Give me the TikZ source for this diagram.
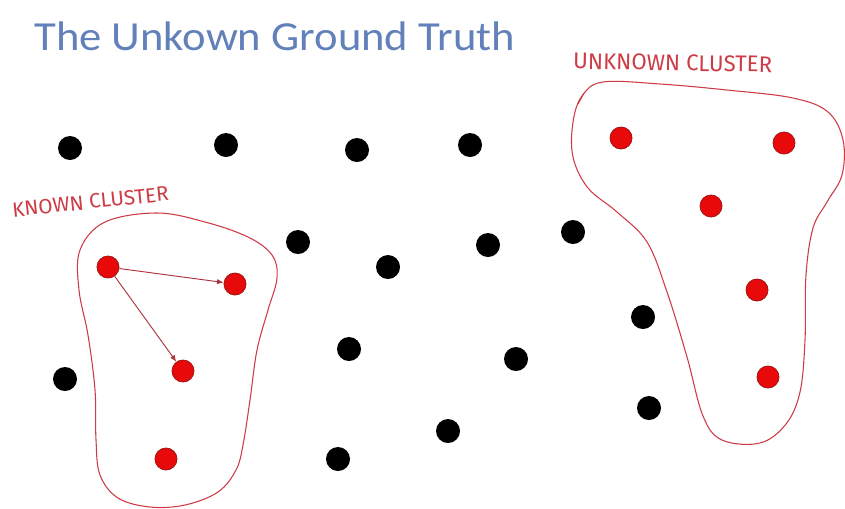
\documentclass[tikz,border=0pt]{standalone}
\usepackage{fontspec}
\setmainfont{Carlito}
\newfontfamily\handfont{Fira Sans}
\usetikzlibrary{arrows.meta}
\definecolor{titleblue}{RGB}{98,128,186}
\definecolor{dotred}{RGB}{232,10,10}
\definecolor{dotedge}{RGB}{160,20,20}
\definecolor{penred}{RGB}{205,60,70}
\tikzset{
  bdot/.style={circle,fill=black,inner sep=0pt,minimum size=18pt},
  rdot/.style={circle,fill=dotred,draw=dotedge,line width=0.6pt,inner sep=0pt,minimum size=16.5pt},
  blob/.style={draw=penred,line width=0.8pt},
  linkarrow/.style={draw=penred!85!black,line width=0.7pt,-{Latex[length=5pt,width=4pt]}},
  hand/.style={text=penred,inner sep=0pt,anchor=west}
}
\begin{document}
\begin{tikzpicture}[x=0.75pt,y=-0.75pt]
\useasboundingbox (0,0) rectangle (845,508);
\fill[white] (0,0) rectangle (845,508);
% title
\node[anchor=west,text=titleblue,font=\fontsize{31}{31}\selectfont,inner sep=0pt,xscale=1.08] (title) at (34,36) {The Unkown Ground Truth};
% black dots
\node[bdot] (k1) at (70,148) {};
\node[bdot] (k2) at (226,145) {};
\node[bdot] (k3) at (357,150) {};
\node[bdot] (k4) at (470,145) {};
\node[bdot] (k5) at (298,242) {};
\node[bdot] (k6) at (388,267) {};
\node[bdot] (k7) at (488,245) {};
\node[bdot] (k8) at (573,232) {};
\node[bdot] (k9) at (643,317) {};
\node[bdot] (k10) at (65,379) {};
\node[bdot] (k11) at (349,349) {};
\node[bdot] (k12) at (516,359) {};
\node[bdot] (k13) at (448,431) {};
\node[bdot] (k14) at (338,459) {};
\node[bdot] (k15) at (649,408) {};
% known cluster
\node[rdot] (r1) at (108,267) {};
\node[rdot] (r2) at (235,284) {};
\node[rdot] (r3) at (183,371) {};
\node[rdot] (r4) at (166,459) {};
\draw[linkarrow] (r1) -- (r2);
\draw[linkarrow] (r1) -- (r3);
\draw[blob] plot[smooth cycle,tension=0.6] coordinates {
  (157,213) (205,222) (248,237) (272,255) (277,278) (268,310) (257,350)
  (250,400) (243,445) (236,470) (218,492) (185,505) (150,507) (118,498)
  (100,475) (96,440) (95,390) (88,335) (79,290) (80,250) (105,222)};
\node[hand,rotate=6,font=\handfont\fontsize{15.5}{15.5}\selectfont] (klabel) at (12,210) {KNOWN CLUSTER};
% unknown cluster
\node[rdot] (u1) at (621,138) {};
\node[rdot] (u2) at (784,143) {};
\node[rdot] (u3) at (711,206) {};
\node[rdot] (u4) at (757,290) {};
\node[rdot] (u5) at (768,377) {};
\draw[blob] plot[smooth cycle,tension=0.6] coordinates {
  (603,82) (660,84) (727,90) (793,98) (828,112) (843,140) (842,175)
  (827,202) (813,228) (806,275) (805,340) (800,392) (786,424) (760,443)
  (722,440) (703,416) (687,357) (667,292) (647,242) (617,212) (588,188)
  (573,157) (573,122) (582,96)};
\draw[blob] (584,93) -- (578,104);
\node[hand,rotate=-1,font=\handfont\fontsize{17}{17}\selectfont,xscale=0.98] (ulabel) at (573,61) {UNKNOWN CLUSTER};
\end{tikzpicture}
\end{document}
